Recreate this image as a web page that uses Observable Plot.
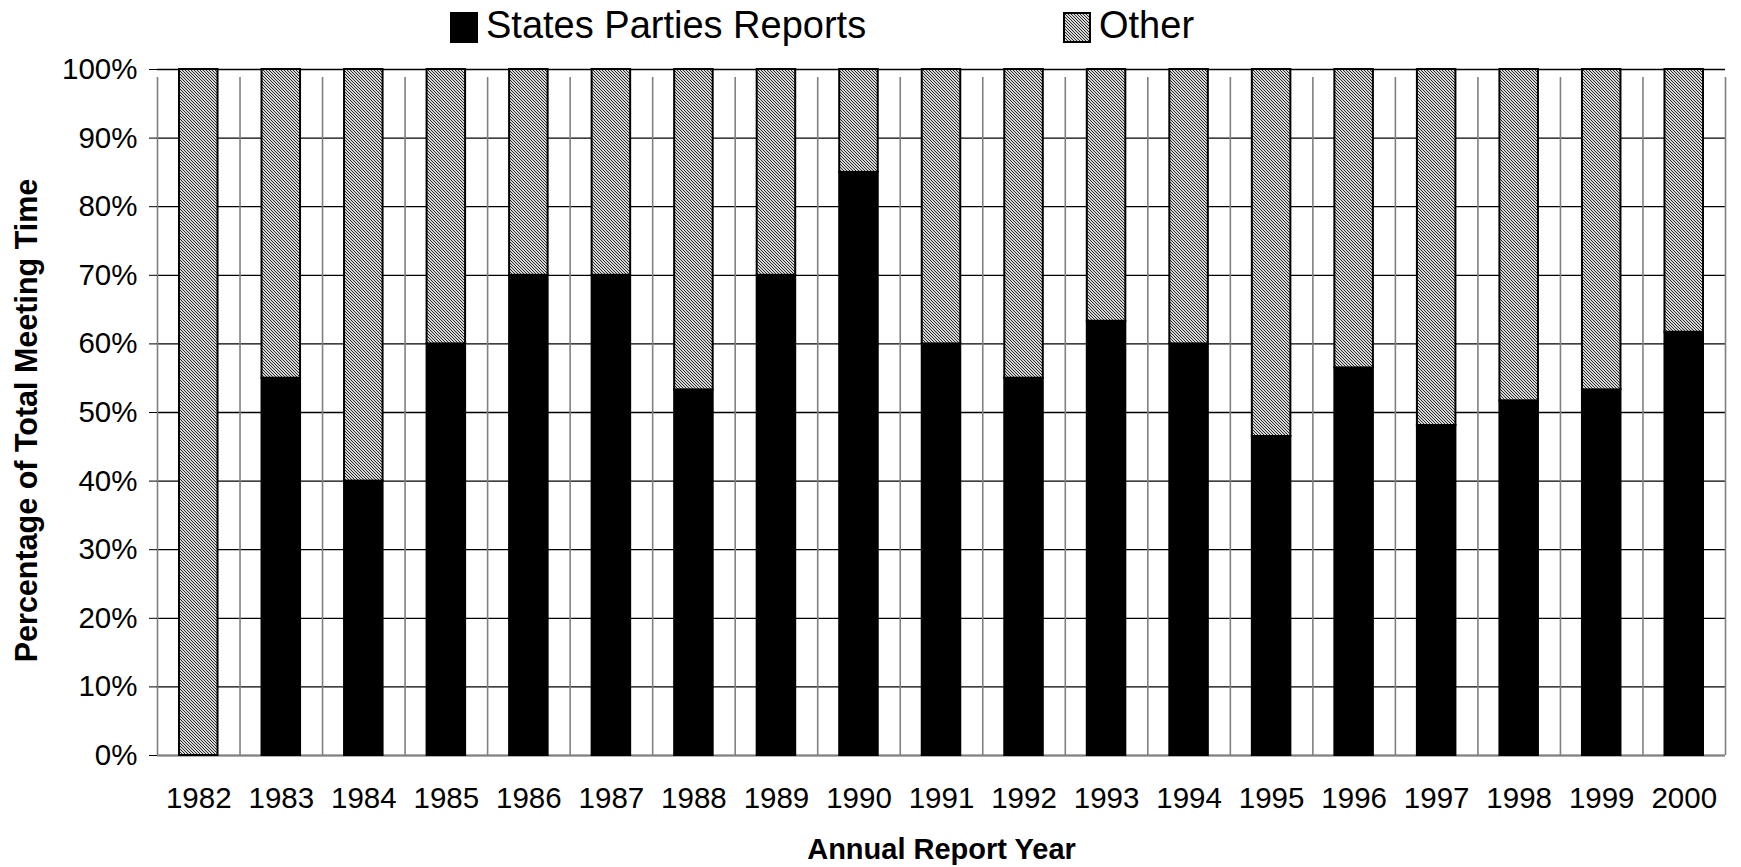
<!DOCTYPE html>
<html><head><meta charset="utf-8">
<script src="https://cdn.jsdelivr.net/npm/d3@7"></script>
<script src="https://cdn.jsdelivr.net/npm/@observablehq/plot@0.6"></script>
<style>
body{margin:0;background:#fff;font-family:"Liberation Sans",Arial,sans-serif;}
#wrap{width:1741px;}
#legend{position:relative;height:50px;width:1741px;font-size:38px;color:#000;}
#legend svg.sw{position:absolute;top:12px;}
#legend .lt{position:absolute;top:0px;line-height:50px;white-space:nowrap;}
</style></head><body>
<div id="wrap">
<div id="legend"></div>
<div id="chart"></div>
</div>
<script>
const years = [1982,1983,1984,1985,1986,1987,1988,1989,1990,1991,1992,1993,1994,1995,1996,1997,1998,1999,2000];
const statesParties = [0,55,40,60,70,70,53.3,70,85,60,55,63.3,60,46.5,56.5,48.1,51.7,53.3,61.7];
const other = [100,45,60,40,30,30,46.7,30,15,40,45,36.7,40,53.5,43.5,51.9,48.3,46.7,38.3];
const seriesNames = ["States Parties Reports","Other"];
const yTicks = [0,10,20,30,40,50,60,70,80,90,100];
const xTitle = "Annual Report Year";
const yTitle = "Percentage of Total Meeting Time";

const rows = years.map((year, i) => ({i, year, states: statesParties[i], other: other[i]}));
const boundaries = d3.range(years.length + 1);
const centers = years.map((_, i) => i + 0.5);

const hatchDef = id => `<pattern id="${id}" patternUnits="userSpaceOnUse" width="3" height="3"><rect width="3" height="3" fill="#d6d6d6"/><path d="M-1,-1 L4,4 M-1,2 L1,4 M2,-1 L4,1" stroke="#2a2a2a" stroke-width="1"/></pattern>`;

// Legend
const legend = document.getElementById("legend");
const legendItems = [
  {name: seriesNames[0], sx: 450, tx: 486, fill: "#000"},
  {name: seriesNames[1], sx: 1063, tx: 1099, fill: "url(#hatchL)"}
];
legendItems.forEach(it => {
  legend.insertAdjacentHTML("beforeend",
    `<svg class="sw" width="28" height="31" style="left:${it.sx}px"><defs>${hatchDef("hatchL")}</defs><rect x="1" y="1" width="26" height="29" fill="${it.fill}" stroke="#000" stroke-width="2"/></svg><span class="lt" style="left:${it.tx}px">${it.name}</span>`);
});

const chart = Plot.plot({
  width: 1741,
  height: 817,
  marginTop: 19,
  marginBottom: 112,
  marginLeft: 157,
  marginRight: 16,
  style: {fontFamily: "'Liberation Sans', Arial, sans-serif", fontSize: "29.5px", color: "#000", background: "#fff"},
  x: {type: "linear", domain: [0, years.length]},
  y: {domain: [0, 100]},
  marks: [
    Plot.ruleY(yTicks, {stroke: "#000", strokeWidth: 1.3}),
    Plot.ruleX(boundaries, {y1: 0, y2: 100, insetBottom: -8, stroke: "#808080", strokeWidth: 1.6}),
    Plot.ruleY([0], {stroke: "#808080", strokeWidth: 1.6}),
    Plot.rectY(rows, {x1: d => d.i, x2: d => d.i + 1, y1: 0, y2: d => d.states, insetLeft: 22, insetRight: 22, fill: "#000", stroke: "#000", strokeWidth: 2}),
    Plot.rectY(rows, {x1: d => d.i, x2: d => d.i + 1, y1: d => d.states, y2: d => d.states + d.other, insetLeft: 22, insetRight: 22, fill: "url(#hatch)", stroke: "#000", strokeWidth: 2}),
    Plot.axisY({ticks: yTicks, tickFormat: d => d + "%", tickSize: 8, tickPadding: 12, label: null, stroke: "#000"}),
    Plot.axisX({ticks: centers, tickFormat: t => String(years[Math.floor(t)]), tickSize: 0, tickPadding: 32, label: null}),
    Plot.text([yTitle], {frameAnchor: "left", textAnchor: "middle", lineAnchor: "middle", rotate: -90, dx: -130, dy: 8, fontWeight: "bold", fontSize: 30.5, fill: "#000"}),
    Plot.text([xTitle], {frameAnchor: "bottom", lineAnchor: "middle", dy: 94, fontWeight: "bold", fontSize: 29, fill: "#000"})
  ]
});
const ns = "http://www.w3.org/2000/svg";
const defs = document.createElementNS(ns, "defs");
defs.innerHTML = hatchDef("hatch");
chart.prepend(defs);
document.getElementById("chart").appendChild(chart);
</script>
</body></html>
